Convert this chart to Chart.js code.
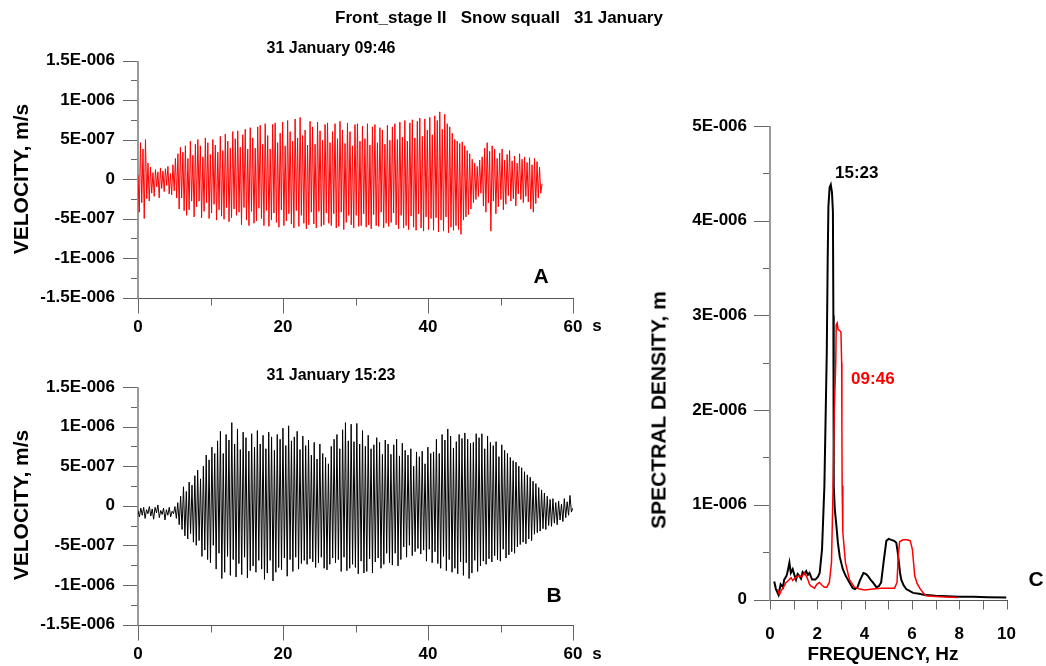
<!DOCTYPE html>
<html>
<head>
<meta charset="utf-8">
<script src="https://cdn.jsdelivr.net/npm/chart.js@4.4.1/dist/chart.umd.min.js"></script>
<style>
  body { margin: 0; background: #fff; }
  #page { position: relative; width: 1046px; height: 666px; overflow: hidden;
          font-family: "Liberation Sans", Arial, sans-serif; font-weight: bold; color: #000; }
  canvas { position: absolute; }
  .t { position: absolute; white-space: pre; transform: translate(-50%, -50%); line-height: 1; }
  .v { position: absolute; white-space: pre; transform: translate(-50%, -50%) rotate(-90deg); line-height: 1; }
</style>
</head>
<body>
<div id="page">
  <canvas id="velA" width="640" height="345" style="left:0;top:0"></canvas>
  <canvas id="velB" width="640" height="336" style="left:0;top:330px"></canvas>
  <canvas id="spec" width="406" height="666" style="left:640px;top:0"></canvas>

  <div class="t" style="left:499px;top:17px;font-size:17px">Front_stage II   Snow squall   31 January</div>
  <div class="t" style="left:331px;top:48px;font-size:16px">31 January 09:46</div>
  <div class="t" style="left:331px;top:375px;font-size:16px">31 January 15:23</div>
  <div class="v" style="left:20px;top:179px;font-size:21px">VELOCITY, m/s</div>
  <div class="v" style="left:20px;top:505px;font-size:21px">VELOCITY, m/s</div>
  <div class="v" style="left:658px;top:410px;font-size:21px">SPECTRAL DENSITY, m</div>
  <div class="t" style="left:883px;top:653px;font-size:19px">FREQUENCY, Hz</div>
  <div class="t" style="left:597px;top:325px;font-size:17px">s</div>
  <div class="t" style="left:597px;top:653px;font-size:17px">s</div>
  <div class="t" style="left:541px;top:275px;font-size:21px">A</div>
  <div class="t" style="left:554px;top:594px;font-size:21px">B</div>
  <div class="t" style="left:1036px;top:578px;font-size:21px">C</div>
</div>
<script>
// seismogram half-cycle peaks, units of 1E-007 m/s
const dtA = 0.172;   // s between samples, record 09:46
const dtB = 0.196;   // s between samples, record 15:23

const velA = [
  0.5,-4.2,4.6,-3.0,3.8,-5.0,5.0,-2.5,2.0,-2.8,
  1.5,-1.8,0.8,-2.2,1.2,-1.0,0.9,-2.4,1.4,-1.2,
  1.0,-1.6,1.3,-0.8,1.6,-1.9,0.7,-2.0,1.8,-1.5,
  2.6,-2.4,3.2,-3.8,4.0,-2.4,3.4,-4.0,4.2,-4.6,
  2.6,-3.9,4.8,-2.8,3.0,-4.8,4.4,-3.5,5.0,-2.8,
  4.2,-4.9,2.8,-4.1,5.2,-3.0,4.6,-5.0,3.1,-4.3,
  5.0,-3.2,4.3,-5.2,3.4,-3.9,5.4,-4.7,3.6,-5.1,
  5.7,-3.6,4.8,-5.4,3.9,-4.9,6.0,-3.8,5.1,-4.6,
  6.1,-4.2,4.0,-5.8,5.6,-3.6,6.3,-5.2,3.8,-5.9,
  6.5,-4.1,5.2,-5.6,3.9,-5.3,6.6,-3.7,6.8,-5.0,
  4.4,-5.9,7.0,-4.0,5.5,-6.0,3.8,-5.2,6.9,-4.3,
  7.1,-5.5,4.6,-6.1,5.8,-3.9,7.2,-5.9,4.2,-5.3,
  7.4,-4.4,6.0,-5.7,4.8,-6.2,7.6,-4.0,5.2,-6.0,
  7.8,-4.6,5.5,-5.6,6.2,-6.3,4.3,-5.8,7.3,-4.2,
  6.6,-5.7,4.4,-6.2,7.2,-4.1,6.1,-6.0,4.9,-5.8,
  6.9,-4.3,7.1,-5.6,4.6,-5.9,6.0,-4.4,7.0,-6.2,
  5.1,-6.0,7.3,-4.2,6.2,-6.4,4.5,-5.5,7.1,-4.6,
  6.0,-5.8,4.2,-6.2,6.9,-4.6,7.0,-6.0,4.8,-5.9,
  6.7,-4.4,5.1,-6.1,7.0,-5.8,4.3,-6.3,6.6,-4.5,
  6.9,-5.9,4.6,-6.0,6.5,-4.2,6.2,-6.2,4.4,-5.6,
  6.8,-6.0,4.9,-5.5,6.6,-4.3,7.0,-5.8,5.0,-6.3,
  7.2,-4.6,5.3,-6.2,7.4,-5.9,4.8,-6.4,7.1,-4.7,
  7.5,-6.1,5.2,-6.5,7.3,-4.4,7.7,-6.2,5.4,-6.6,
  7.6,-4.8,6.2,-6.4,7.8,-5.0,5.6,-6.5,8.0,-4.9,
  7.4,-6.7,8.5,-5.2,6.3,-6.6,8.2,-4.8,7.0,-6.8,
  6.6,-6.1,5.8,-6.5,5.0,-5.9,4.8,-6.4,4.5,-7.0,
  4.7,-5.2,4.2,-4.8,3.6,-4.5,3.2,-3.8,2.5,-3.0,
  2.0,-2.6,1.6,-2.2,2.4,-1.8,2.8,-3.4,3.9,-4.2,
  4.6,-3.0,3.5,-6.6,4.2,-2.8,3.8,-4.4,2.6,-3.5,
  3.3,-2.6,3.8,-3.9,2.4,-3.2,3.1,-2.1,3.6,-2.8,
  2.3,-2.5,2.9,-3.4,2.0,-1.9,3.2,-2.6,2.5,-3.0,
  2.8,-2.2,2.1,-2.9,2.7,-3.8,1.8,-4.2,2.6,-3.1,
  2.2,-2.4,1.5,-1.8,-0.6
];

const velB = [
  -0.6,-1.4,-0.3,-1.2,-0.2,-1.6,-0.5,-1.0,-0.1,-1.3,
  -0.4,-1.7,-0.2,-0.9,0.1,-1.5,-0.6,-1.1,-0.3,-1.8,
  -0.5,-1.2,-0.2,-1.4,-0.7,-1.0,-0.1,-1.6,0.4,-2.4,
  1.2,-3.0,2.4,-3.8,1.8,-4.2,3.0,-3.5,2.6,-4.6,
  3.8,-5.0,4.5,-4.4,3.4,-6.4,5.0,-5.6,6.4,-6.8,
  5.8,-7.2,7.4,-5.0,6.6,-8.0,8.2,-6.0,9.4,-9.2,
  6.6,-8.4,9.0,-6.4,8.3,-8.8,10.5,-6.8,7.8,-9.0,
  9.7,-7.3,7.1,-8.7,9.3,-6.5,8.6,-9.1,6.9,-8.2,
  9.1,-7.6,7.4,-8.4,9.5,-6.9,7.8,-8.0,8.9,-9.3,
  7.2,-8.5,9.3,-6.9,8.7,-9.5,7.0,-8.4,9.0,-7.8,
  8.4,-8.1,9.8,-6.6,7.6,-8.9,10.1,-6.8,8.2,-8.3,
  8.7,-6.5,9.4,-8.0,7.1,-7.3,8.8,-6.9,7.6,-7.4,
  8.3,-6.7,6.4,-7.1,8.0,-7.8,5.9,-7.2,7.8,-6.5,
  6.6,-7.9,6.1,-8.1,5.3,-7.4,7.5,-6.6,8.4,-7.2,
  9.0,-6.8,7.2,-8.3,9.6,-6.5,10.5,-8.2,8.2,-7.9,
  10.3,-7.4,8.1,-7.8,10.4,-8.6,7.8,-7.0,9.5,-8.5,
  7.5,-8.3,8.9,-6.7,7.2,-8.5,7.7,-7.1,8.6,-6.6,
  8.0,-7.9,6.5,-7.4,8.3,-6.0,7.8,-7.2,6.5,-7.5,
  7.7,-6.0,8.4,-7.6,6.3,-6.8,7.9,-5.2,7.0,-6.5,
  6.4,-5.0,7.2,-6.3,5.0,-5.8,6.8,-5.4,6.2,-6.1,
  6.9,-5.6,5.3,-7.0,7.4,-5.5,6.6,-7.2,6.8,-5.8,
  8.4,-7.3,6.6,-7.9,9.0,-6.4,8.3,-8.2,9.7,-6.8,
  8.8,-8.4,7.3,-7.9,8.1,-8.6,9.0,-7.1,8.5,-8.8,
  9.2,-7.2,8.4,-9.2,7.9,-8.5,8.0,-6.9,9.1,-8.3,
  8.6,-7.6,9.1,-7.0,7.2,-7.4,8.8,-6.7,8.0,-7.1,
  7.6,-6.3,8.1,-6.8,6.2,-7.0,7.7,-5.5,7.0,-6.6,
  6.6,-6.2,6.1,-5.8,5.7,-6.0,5.5,-5.2,5.0,-4.9,
  4.8,-4.6,4.3,-4.8,3.9,-4.2,3.6,-4.4,3.1,-3.6,
  2.8,-3.4,2.3,-3.2,2.0,-2.9,1.6,-3.0,1.2,-2.5,
  0.8,-2.6,0.9,-2.2,0.4,-2.4,0.6,-1.8,0.2,-2.0,
  0.9,-1.5,0.5,-1.2,1.3,-0.8,-0.3
];

const velTicks = [-15, -10, -5, 0, 5, 10, 15];
const velTickText = ['-1.5E-006', '-1E-006', '-5E-007', '0', '5E-007', '1E-006', '1.5E-006'];
const velMinor = [-12.5, -7.5, -2.5, 2.5, 7.5, 12.5];
const timeTicks = [0, 20, 40, 60];
const timeMinor = [10, 30, 50];

// spectral density, units of 1E-006 m
const freq15 = [0.18,0.25,0.36,0.45,0.55,0.6,0.7,0.75,0.82,0.88,0.96,1.03,1.1,1.17,1.24,1.31,1.38,1.45,
  1.53,1.6,1.67,1.78,1.92,2.03,2.1,2.2,2.3,2.4,2.44,2.47,2.52,2.57,2.62,2.66,2.68,2.69,2.7,2.74,2.8,
  2.87,2.95,3.08,3.2,3.36,3.5,3.6,3.7,3.8,3.95,4.05,4.14,4.25,4.35,4.5,4.6,4.7,4.8,4.92,5.02,5.13,
  5.25,5.34,5.4,5.45,5.5,5.55,5.65,5.76,5.9,6.05,6.3,6.5,7.0,7.5,8.0,8.6,9.2,10.0];
const dens15 = [0.19,0.11,0.05,0.16,0.13,0.21,0.25,0.3,0.39,0.28,0.32,0.26,0.21,0.27,0.25,0.22,0.29,0.27,
  0.3,0.26,0.28,0.21,0.21,0.24,0.28,0.53,1.2,2.6,3.6,4.15,4.35,4.38,4.3,4.1,3.0,2.0,1.2,0.95,0.8,
  0.6,0.45,0.32,0.25,0.18,0.12,0.11,0.13,0.2,0.28,0.27,0.25,0.21,0.18,0.13,0.14,0.18,0.39,0.62,0.64,0.63,
  0.62,0.6,0.5,0.39,0.28,0.21,0.15,0.11,0.09,0.07,0.06,0.05,0.04,0.035,0.03,0.03,0.025,0.02];

const freq09 = [0.32,0.4,0.47,0.54,0.62,0.68,0.78,0.89,0.96,1.03,1.13,1.24,1.35,1.45,1.53,1.6,1.67,1.74,
  1.88,1.98,2.09,2.2,2.3,2.4,2.51,2.6,2.66,2.72,2.78,2.8,2.84,2.88,2.95,3.0,3.03,3.04,3.05,3.08,3.19,
  3.36,3.57,3.79,4.0,4.35,4.7,4.92,5.27,5.37,5.42,5.48,5.62,5.8,5.93,6.02,6.12,6.22,6.33,6.45,6.6,7.17,7.95];
const dens09 = [0.11,0.05,0.09,0.12,0.15,0.18,0.2,0.23,0.2,0.22,0.24,0.25,0.24,0.28,0.25,0.21,0.16,0.14,
  0.12,0.16,0.18,0.15,0.13,0.13,0.18,0.39,1.1,2.0,2.5,2.9,2.92,2.85,2.84,2.82,2.5,1.8,1.2,0.71,0.39,
  0.21,0.13,0.11,0.1,0.11,0.12,0.12,0.12,0.18,0.45,0.61,0.63,0.63,0.62,0.53,0.25,0.17,0.12,0.08,0.04,0.03,0.02];

const densTicks = [0, 1, 2, 3, 4, 5];
const densTickText = ['0', '1E-006', '2E-006', '3E-006', '4E-006', '5E-006'];
const densMinor = [0.5, 1.5, 2.5, 3.5, 4.5];
const freqTicks = [0, 2, 4, 6, 8, 10];
const freqMinor = [1, 3, 5, 7, 9];

const peakLabels = ['15:23', '09:46'];
const peakAt = [[2.75, 4.5], [3.43, 2.32]];
const peakColors = ['#000000', '#ff0000'];

Chart.defaults.font.family = '"Liberation Sans", Arial, sans-serif';
Chart.defaults.font.weight = 'bold';
Chart.defaults.font.size = 17;
Chart.defaults.color = '#000';

// axis lines and long/short tick marks
const frame = {
  id: 'frame',
  beforeDatasetsDraw(chart, args, o) {
    const { ctx, chartArea: a, scales: { x, y } } = chart;
    const seg = (x1, y1, x2, y2) => { ctx.beginPath(); ctx.moveTo(x1, y1); ctx.lineTo(x2, y2); ctx.stroke(); };
    const px = v => Math.round(x.getPixelForValue(v)) + 0.5;
    const py = v => Math.round(y.getPixelForValue(v)) + 0.5;
    const left = Math.round(a.left), bottom = Math.round(a.bottom) + 0.5;
    ctx.save();
    ctx.lineWidth = 1;
    ctx.strokeStyle = '#666';
    o.yMajor.forEach(v => seg(left - o.yLong, py(v), left, py(v)));
    o.yMinor.forEach(v => seg(left - o.yShort, py(v), left, py(v)));
    o.xMajor.forEach(v => seg(px(v), bottom, px(v), bottom + o.xLong));
    o.xMinor.forEach(v => seg(px(v), bottom, px(v), bottom + o.xShort));
    ctx.strokeStyle = '#555';
    seg(left, bottom, Math.round(a.right) + 1, bottom);
    ctx.strokeStyle = '#999';
    ctx.lineWidth = 2;
    seg(left, Math.round(a.top), left, bottom);
    ctx.restore();
  }
};

const peakNotes = {
  id: 'peakNotes',
  afterDatasetsDraw(chart) {
    const { ctx, scales: { x, y } } = chart;
    ctx.save();
    ctx.font = 'bold 17px "Liberation Sans", Arial, sans-serif';
    ctx.textBaseline = 'middle';
    peakLabels.forEach((txt, i) => {
      ctx.fillStyle = peakColors[i];
      ctx.fillText(txt, x.getPixelForValue(peakAt[i][0]), y.getPixelForValue(peakAt[i][1]));
    });
    ctx.restore();
  }
};

function axis(min, max, ticks, text, pad, fit) {
  return {
    type: 'linear', min, max,
    afterBuildTicks: s => { s.ticks = ticks.map(v => ({ value: v })); },
    afterFit: fit,
    ticks: { autoSkip: false, maxRotation: 0, padding: pad, callback: (v, i) => text[i] },
    grid: { drawOnChartArea: false, color: 'rgba(0,0,0,0)', tickLength: 15 },
    border: { display: false }
  };
}

function seismo(id, vals, dt, color, padding) {
  new Chart(document.getElementById(id), {
    type: 'line',
    data: {
      datasets: [{
        data: vals.map((v, i) => ({ x: i * dt, y: v })),
        borderColor: color, borderWidth: 1, pointRadius: 0, tension: 0
      }]
    },
    options: {
      responsive: false, animation: false, events: [],
      layout: { padding },
      plugins: {
        legend: { display: false }, tooltip: { enabled: false },
        frame: { yMajor: velTicks, yMinor: velMinor, xMajor: timeTicks, xMinor: timeMinor,
                 yLong: 15, yShort: 7, xLong: 15, xShort: 7 }
      },
      scales: {
        x: axis(0, 60, timeTicks, timeTicks.map(String), 5, s => { s.height = 40; }),
        y: axis(-15, 15, velTicks, velTickText, 8, s => { s.width = 100; })
      }
    },
    plugins: [frame]
  });
}

seismo('velA', velA, dtA, '#ff0000', { left: 38, top: 60.5, right: 67, bottom: 7.5 });
seismo('velB', velB, dtB, '#000000', { left: 38, top: 57, right: 67, bottom: 1.5 });

new Chart(document.getElementById('spec'), {
  type: 'line',
  data: {
    datasets: [
      { data: freq09.map((f, i) => ({ x: f, y: dens09[i] })), borderColor: '#ff0000',
        borderWidth: 1.5, pointRadius: 0, tension: 0 },
      { data: freq15.map((f, i) => ({ x: f, y: dens15[i] })), borderColor: '#000000',
        borderWidth: 2, pointRadius: 0, tension: 0 }
    ]
  },
  options: {
    responsive: false, animation: false, events: [],
    layout: { padding: { left: 30, top: 126, right: 39.5, bottom: 26.5 } },
    plugins: {
      legend: { display: false }, tooltip: { enabled: false },
      frame: { yMajor: densTicks, yMinor: densMinor, xMajor: freqTicks, xMinor: freqMinor,
               yLong: 16, yShort: 7, xLong: 9, xShort: 9 }
    },
    scales: {
      x: axis(0, 10, freqTicks, freqTicks.map(String), 10, s => { s.height = 40; }),
      y: axis(0, 5, densTicks, densTickText, 8, s => { s.width = 100; })
    }
  },
  plugins: [frame, peakNotes]
});
</script>
</body>
</html>
